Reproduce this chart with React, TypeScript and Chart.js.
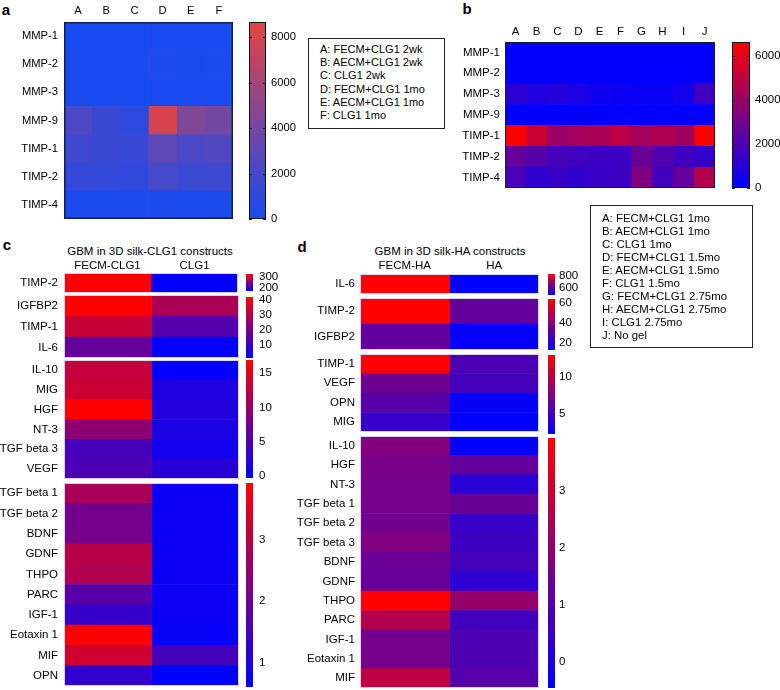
import React, { useEffect, useRef } from "react";
import { Chart, registerables } from "chart.js";
Chart.register(...registerables);

const FONT = '"Liberation Sans", Arial, Helvetica, sans-serif';
Chart.defaults.font.family = FONT;
Chart.defaults.color = "#000";

type RGB = [number, number, number];
type Box = [number, number, number, number];

// ---------- colour maps ----------
const BWR_LO: RGB = [0, 0, 255];
const BWR_HI: RGB = [255, 0, 0];
const A_LO: RGB = [22, 74, 242];
const A_HI: RGB = [228, 68, 66];

// ---------- panel a ----------
const A_COLS = ["A", "B", "C", "D", "E", "F"];
const A_ROWS = ["MMP-1", "MMP-2", "MMP-3", "MMP-9", "TIMP-1", "TIMP-2", "TIMP-4"];
const A_DATA = [
  [60, 60, 60, 150, 100, 120],
  [100, 100, 100, 250, 180, 200],
  [80, 80, 80, 150, 120, 130],
  [2300, 1500, 1000, 8100, 4500, 3900],
  [1700, 1500, 1400, 3000, 2200, 2500],
  [1300, 1200, 1100, 2000, 1600, 1700],
  [200, 200, 200, 250, 220, 230],
];
const A_RANGE: [number, number] = [0, 8660];
const A_TICKS = [0, 2000, 4000, 6000, 8000];
const A_LEGEND = [
  "A: FECM+CLG1 2wk",
  "B: AECM+CLG1 2wk",
  "C: CLG1 2wk",
  "D: FECM+CLG1 1mo",
  "E: AECM+CLG1 1mo",
  "F: CLG1 1mo",
];

// ---------- panel b ----------
const B_COLS = ["A", "B", "C", "D", "E", "F", "G", "H", "I", "J"];
const B_ROWS = ["MMP-1", "MMP-2", "MMP-3", "MMP-9", "TIMP-1", "TIMP-2", "TIMP-4"];
const B_DATA = [
  [80, 60, 60, 50, 50, 40, 40, 40, 40, 60],
  [60, 50, 50, 40, 40, 40, 30, 30, 30, 50],
  [1100, 800, 900, 700, 400, 300, 250, 250, 500, 1700],
  [60, 50, 50, 40, 40, 40, 40, 40, 40, 60],
  [6640, 5300, 4000, 4300, 4400, 4900, 4300, 4500, 4200, 6640],
  [2600, 2300, 1800, 1700, 1600, 1600, 2700, 2100, 1700, 1300],
  [1900, 1200, 1400, 1300, 1500, 1600, 3300, 1700, 2600, 4700],
];
const B_RANGE: [number, number] = [0, 6640];
const B_TICKS = [0, 2000, 4000, 6000];
const B_LEGEND = [
  "A: FECM+CLG1 1mo",
  "B: AECM+CLG1 1mo",
  "C: CLG1 1mo",
  "D: FECM+CLG1 1.5mo",
  "E: AECM+CLG1 1.5mo",
  "F: CLG1 1.5mo",
  "G: FECM+CLG1 2.75mo",
  "H: AECM+CLG1 2.75mo",
  "I: CLG1 2.75mo",
  "J: No gel",
];

// ---------- panel c ----------
const C_TITLE = "GBM in 3D silk-CLG1 constructs";
const C_COLS = ["FECM-CLG1", "CLG1"];
const C_G1_ROWS = ["TIMP-2"];
const C_G1_FECM = [327];
const C_G1_CLG1 = [173];
const C_G1_RANGE: [number, number] = [173, 327];
const C_G1_TICKS = [200, 300];
const C_G2_ROWS = ["IGFBP2", "TIMP-1", "IL-6"];
const C_G2_FECM = [42, 33, 17.5];
const C_G2_CLG1 = [28.5, 14.5, 1.5];
const C_G2_RANGE: [number, number] = [1.3, 42];
const C_G2_TICKS = [10, 20, 30, 40];
const C_G3_ROWS = ["IL-10", "MIG", "HGF", "NT-3", "TGF beta 3", "VEGF"];
const C_G3_FECM = [13, 13.3, 16.9, 9.3, 4.4, 4.8];
const C_G3_CLG1 = [0, 1.8, 1.9, 1.5, 1.0, 2.3];
const C_G3_RANGE: [number, number] = [-0.3, 16.9];
const C_G3_TICKS = [0, 5, 10, 15];
const C_G4_ROWS = ["TGF beta 1", "TGF beta 2", "BDNF", "GDNF", "THPO", "PARC", "IGF-1", "Eotaxin 1", "MIF", "OPN"];
const C_G4_FECM = [2.8, 2.1, 2.1, 3.0, 2.9, 1.75, 1.3, 3.93, 3.3, 1.25];
const C_G4_CLG1 = [0.75, 0.75, 0.75, 0.75, 0.75, 0.75, 0.75, 0.7, 1.5, 0.6];
const C_G4_RANGE: [number, number] = [0.6, 3.93];
const C_G4_TICKS = [1, 2, 3];

// ---------- panel d ----------
const D_TITLE = "GBM in 3D silk-HA constructs";
const D_COLS = ["FECM-HA", "HA"];
const D_G1_ROWS = ["IL-6"];
const D_G1_FECM = [833];
const D_G1_HA = [483];
const D_G1_RANGE: [number, number] = [483, 833];
const D_G1_TICKS = [600, 800];
const D_G2_ROWS = ["TIMP-2", "IGFBP2"];
const D_G2_FECM = [64, 32.5];
const D_G2_HA = [33, 14];
const D_G2_RANGE: [number, number] = [13, 64];
const D_G2_TICKS = [20, 40, 60];
const D_G3_ROWS = ["TIMP-1", "VEGF", "OPN", "MIG"];
const D_G3_FECM = [13, 7.0, 5.9, 4.6];
const D_G3_HA = [5.5, 5.2, 2.5, 2.3];
const D_G3_RANGE: [number, number] = [2.3, 13];
const D_G3_TICKS = [5, 10];
const D_G4_ROWS = ["IL-10", "HGF", "NT-3", "TGF beta 1", "TGF beta 2", "TGF beta 3", "BDNF", "GDNF", "THPO", "PARC", "IGF-1", "Eotaxin 1", "MIF"];
const D_G4_FECM = [1.78, 1.6, 1.56, 1.52, 1.47, 1.74, 1.38, 1.3, 3.93, 2.61, 1.52, 1.56, 2.79];
const D_G4_HA = [-0.46, 1.25, 0.24, 1.34, 0.5, 0.6, 0.73, 0.33, 2.13, 0.64, 0.86, 0.86, 1.0];
const D_G4_RANGE: [number, number] = [-0.46, 3.93];
const D_G4_TICKS = [0, 1, 2, 3];

// ---------- helpers ----------
function mix(lo: RGB, hi: RGB, t: number) {
  const u = Math.max(0, Math.min(1, t));
  const c = lo.map((v, i) => Math.round(v + (hi[i] - v) * u));
  return `rgb(${c[0]},${c[1]},${c[2]})`;
}

const framePlugin = {
  id: "frame",
  afterDraw(chart: any, _args: any, opts: any) {
    if (!opts) return;
    const { ctx, chartArea: a } = chart;
    ctx.save();
    if (opts.color) {
      const w = opts.width || 1;
      ctx.strokeStyle = opts.color;
      ctx.lineWidth = w;
      ctx.strokeRect(a.left + w / 2, a.top + w / 2, a.right - a.left - w, a.bottom - a.top - w);
    }
    if (opts.tickMarks) {
      const s = chart.scales.y;
      ctx.strokeStyle = opts.tickMarks;
      ctx.lineWidth = 1;
      s.ticks.forEach((tk: any) => {
        const y = Math.round(s.getPixelForValue(tk.value)) + 0.5;
        ctx.beginPath();
        ctx.moveTo(a.left, y);
        ctx.lineTo(a.left + 3, y);
        ctx.moveTo(a.right - 3, y);
        ctx.lineTo(a.right, y);
        ctx.stroke();
      });
    }
    ctx.restore();
  },
};

const M = 18; // spare canvas margin so axis label padding never squeezes the plot area

type HeatProps = {
  area: Box; // left, top, right, bottom of the cells on the page
  labelW: number;
  colH: number;
  rows: string[];
  cols: string[];
  columns: number[][];
  range: [number, number];
  lo: RGB;
  hi: RGB;
  showCols: boolean;
  frame?: string;
  frameW?: number;
  padX?: number;
  padY?: number;
  fs?: number;
};

function Heatmap(p: HeatProps) {
  const ref = useRef<HTMLCanvasElement>(null);
  const [l, t, r, b] = p.area;
  const topM = p.showCols ? p.colH : M;
  const bx = l - p.labelW;
  const by = t - topM;
  const bw = p.labelW + (r - l) + 4;
  const bh = topM + (b - t) + M;
  useEffect(() => {
    const [mn, mx] = p.range;
    const nC = p.cols.length;
    const fs = p.fs ?? 11;
    const chart = new Chart(ref.current!, {
      type: "bar",
      data: {
        labels: p.rows,
        datasets: p.cols.map((c, j) => ({
          label: c,
          data: p.rows.map(() => 1),
          backgroundColor: p.columns[j].map((v) => mix(p.lo, p.hi, (v - mn) / (mx - mn))),
          borderWidth: 0,
          barPercentage: 1,
          categoryPercentage: 1,
        })),
      },
      options: {
        indexAxis: "y",
        animation: false,
        responsive: false,
        maintainAspectRatio: false,
        layout: { padding: { left: 0, top: p.showCols ? 0 : M, right: 4, bottom: M } },
        plugins: {
          legend: { display: false },
          tooltip: { enabled: false },
          frame: { color: p.frame, width: p.frameW || 1 },
        } as any,
        scales: {
          x: {
            type: "linear",
            stacked: true,
            min: 0,
            max: nC,
            position: "top",
            display: p.showCols,
            grid: { display: false, drawTicks: false },
            border: { display: false },
            afterBuildTicks: (s: any) => {
              s.ticks = p.cols.map((_, j) => ({ value: j + 0.5 }));
            },
            afterFit: (s: any) => {
              s.height = p.colH;
            },
            ticks: {
              autoSkip: false,
              maxRotation: 0,
              minRotation: 0,
              padding: p.padX ?? 4,
              color: "#000",
              font: { size: fs, family: FONT },
              callback: (v: any) => p.cols[Math.floor(Number(v))],
            },
          },
          y: {
            type: "category",
            stacked: true,
            grid: { display: false, drawTicks: false },
            border: { display: false },
            afterFit: (s: any) => {
              s.width = p.labelW;
            },
            ticks: {
              autoSkip: false,
              padding: p.padY ?? 6,
              color: "#000",
              font: { size: fs, family: FONT },
            },
          },
        },
      } as any,
      plugins: [framePlugin],
    });
    return () => chart.destroy();
  }, []);
  return (
    <canvas
      ref={ref}
      width={bw}
      height={bh}
      style={{ position: "absolute", left: bx, top: by, width: bw, height: bh }}
    />
  );
}

type BarProps = {
  bar: Box; // left, top, right, bottom
  labelW: number;
  range: [number, number];
  ticks: number[];
  lo: RGB;
  hi: RGB;
  pad: number;
  frame?: string;
  tickMarks?: string;
  fs?: number;
};

function ColorBar(p: BarProps) {
  const ref = useRef<HTMLCanvasElement>(null);
  const [l, t, r, b] = p.bar;
  const bx = l;
  const by = t - M;
  const bw = r - l + p.labelW;
  const bh = b - t + 2 * M;
  useEffect(() => {
    const [mn, mx] = p.range;
    const loC = mix(p.lo, p.hi, 0);
    const hiC = mix(p.lo, p.hi, 1);
    const chart = new Chart(ref.current!, {
      type: "bar",
      data: {
        labels: [""],
        datasets: [
          {
            data: [[mn, mx]],
            backgroundColor: (c: any) => {
              const a = c.chart.chartArea;
              if (!a) return loC;
              const g = c.chart.ctx.createLinearGradient(0, a.bottom, 0, a.top);
              g.addColorStop(0, loC);
              g.addColorStop(1, hiC);
              return g;
            },
            borderWidth: 0,
            barPercentage: 1,
            categoryPercentage: 1,
            inflateAmount: 0,
          } as any,
        ],
      },
      options: {
        animation: false,
        responsive: false,
        maintainAspectRatio: false,
        layout: { padding: { left: 0, right: 0, top: M, bottom: M } },
        plugins: {
          legend: { display: false },
          tooltip: { enabled: false },
          frame: { color: p.frame, width: 1, tickMarks: p.tickMarks },
        } as any,
        scales: {
          x: { display: false },
          y: {
            type: "linear",
            position: "right",
            min: mn,
            max: mx,
            grid: { display: false, drawTicks: false },
            border: { display: false },
            afterBuildTicks: (s: any) => {
              s.ticks = p.ticks.map((v) => ({ value: v }));
            },
            afterFit: (s: any) => {
              s.width = p.labelW;
            },
            ticks: {
              autoSkip: false,
              padding: p.pad,
              color: "#000",
              font: { size: p.fs ?? 11, family: FONT },
              callback: (v: any) => String(v),
            },
          },
        },
      } as any,
      plugins: [framePlugin],
    });
    return () => chart.destroy();
  }, []);
  return (
    <canvas
      ref={ref}
      width={bw}
      height={bh}
      style={{ position: "absolute", left: bx, top: by, width: bw, height: bh }}
    />
  );
}

function Txt(p: { x: number; y: number; children: any; size?: number; bold?: boolean }) {
  return (
    <div
      style={{
        position: "absolute",
        left: p.x,
        top: p.y,
        transform: "translate(-50%,-50%)",
        fontSize: p.size ?? 11,
        fontWeight: p.bold ? 700 : 400,
        lineHeight: 1,
        whiteSpace: "nowrap",
        color: "#000",
      }}
    >
      {p.children}
    </div>
  );
}

function LegendBox(p: { x: number; y: number; w: number; h: number; lines: string[]; lh: number; padTop: number; fs: number }) {
  return (
    <div
      style={{
        position: "absolute",
        left: p.x,
        top: p.y,
        width: p.w,
        height: p.h,
        boxSizing: "border-box",
        border: "1px solid #222",
        paddingTop: p.padTop,
        paddingLeft: 11,
        fontSize: p.fs,
        lineHeight: `${p.lh}px`,
        whiteSpace: "nowrap",
        color: "#000",
      }}
    >
      {p.lines.map((s) => (
        <div key={s}>{s}</div>
      ))}
    </div>
  );
}

export default function App() {
  const cFrame = "#d9d3f0";
  const FS = 11.5;
  return (
    <div
      style={{
        position: "fixed",
        left: 0,
        top: 0,
        width: 780,
        height: 690,
        overflow: "hidden",
        background: "#fff",
        fontFamily: FONT,
      }}
    >
      {/* panel labels */}
      <Txt x={6} y={9} size={15} bold>a</Txt>
      <Txt x={467} y={8} size={15} bold>b</Txt>
      <Txt x={7} y={244} size={15} bold>c</Txt>
      <Txt x={302} y={246} size={15} bold>d</Txt>

      {/* panel a */}
      <Heatmap
        area={[64, 22, 233, 219]}
        labelW={64}
        colH={22}
        rows={A_ROWS}
        cols={A_COLS}
        columns={A_COLS.map((_, j) => A_DATA.map((row) => row[j]))}
        range={A_RANGE}
        lo={A_LO}
        hi={A_HI}
        showCols
        frame="#0d1f5c"
        frameW={1.5}
        padX={4}
        padY={6}
        fs={11.2}
      />
      <ColorBar bar={[249, 22, 266, 219]} labelW={40} range={A_RANGE} ticks={A_TICKS} lo={A_LO} hi={A_HI} pad={5} frame="#111" tickMarks="#222" fs={11.2} />
      <LegendBox x={308} y={38} w={137} h={91} lines={A_LEGEND} lh={13.2} padTop={4} fs={11} />

      {/* panel b */}
      <Heatmap
        area={[505, 42, 715, 188]}
        labelW={75}
        colH={42}
        rows={B_ROWS}
        cols={B_COLS}
        columns={B_COLS.map((_, j) => B_DATA.map((row) => row[j]))}
        range={B_RANGE}
        lo={BWR_LO}
        hi={BWR_HI}
        showCols
        frame="#1a1a3a"
        frameW={1}
        padX={3}
        padY={5}
        fs={FS}
      />
      <ColorBar bar={[732, 42, 750, 188]} labelW={30} range={B_RANGE} ticks={B_TICKS} lo={BWR_LO} hi={BWR_HI} pad={5} frame="#111" tickMarks="#222" fs={FS} />
      <LegendBox x={590} y={205} w={163} h={143} lines={B_LEGEND} lh={13} padTop={6} fs={11.4} />

      {/* panel c */}
      <Txt x={150} y={251.5} size={11.5}>{C_TITLE}</Txt>
      <Heatmap area={[64, 273, 238, 293]} labelW={64} colH={18} rows={C_G1_ROWS} cols={C_COLS} columns={[C_G1_FECM, C_G1_CLG1]} range={C_G1_RANGE} lo={BWR_LO} hi={BWR_HI} showCols frame={cFrame} padX={0} fs={FS} />
      <Heatmap area={[64, 295, 239, 358]} labelW={64} colH={0} rows={C_G2_ROWS} cols={C_COLS} columns={[C_G2_FECM, C_G2_CLG1]} range={C_G2_RANGE} lo={BWR_LO} hi={BWR_HI} showCols={false} frame={cFrame} fs={FS} />
      <Heatmap area={[64, 360, 239, 479]} labelW={64} colH={0} rows={C_G3_ROWS} cols={C_COLS} columns={[C_G3_FECM, C_G3_CLG1]} range={C_G3_RANGE} lo={BWR_LO} hi={BWR_HI} showCols={false} frame={cFrame} fs={FS} />
      <Heatmap area={[64, 483, 239, 686]} labelW={64} colH={0} rows={C_G4_ROWS} cols={C_COLS} columns={[C_G4_FECM, C_G4_CLG1]} range={C_G4_RANGE} lo={BWR_LO} hi={BWR_HI} showCols={false} frame={cFrame} fs={FS} />
      <ColorBar bar={[246, 274, 253, 291]} labelW={30} range={C_G1_RANGE} ticks={C_G1_TICKS} lo={BWR_LO} hi={BWR_HI} pad={6} fs={FS} />
      <ColorBar bar={[246, 297, 253, 358]} labelW={30} range={C_G2_RANGE} ticks={C_G2_TICKS} lo={BWR_LO} hi={BWR_HI} pad={6} fs={FS} />
      <ColorBar bar={[246, 360, 253, 478]} labelW={30} range={C_G3_RANGE} ticks={C_G3_TICKS} lo={BWR_LO} hi={BWR_HI} pad={6} fs={FS} />
      <ColorBar bar={[246, 483, 253, 687]} labelW={30} range={C_G4_RANGE} ticks={C_G4_TICKS} lo={BWR_LO} hi={BWR_HI} pad={6} fs={FS} />

      {/* panel d */}
      <Txt x={450} y={252} size={11.5}>{D_TITLE}</Txt>
      <Heatmap area={[360, 274, 539, 294]} labelW={70} colH={18} rows={D_G1_ROWS} cols={D_COLS} columns={[D_G1_FECM, D_G1_HA]} range={D_G1_RANGE} lo={BWR_LO} hi={BWR_HI} showCols frame={cFrame} padX={1} padY={5} fs={FS} />
      <Heatmap area={[360, 298, 539, 350]} labelW={70} colH={0} rows={D_G2_ROWS} cols={D_COLS} columns={[D_G2_FECM, D_G2_HA]} range={D_G2_RANGE} lo={BWR_LO} hi={BWR_HI} showCols={false} frame={cFrame} padY={5} fs={FS} />
      <Heatmap area={[360, 354, 539, 432]} labelW={70} colH={0} rows={D_G3_ROWS} cols={D_COLS} columns={[D_G3_FECM, D_G3_HA]} range={D_G3_RANGE} lo={BWR_LO} hi={BWR_HI} showCols={false} frame={cFrame} padY={5} fs={FS} />
      <Heatmap area={[360, 436, 539, 688]} labelW={70} colH={0} rows={D_G4_ROWS} cols={D_COLS} columns={[D_G4_FECM, D_G4_HA]} range={D_G4_RANGE} lo={BWR_LO} hi={BWR_HI} showCols={false} frame={cFrame} padY={5} fs={FS} />
      <ColorBar bar={[548, 274, 555, 295]} labelW={30} range={D_G1_RANGE} ticks={D_G1_TICKS} lo={BWR_LO} hi={BWR_HI} pad={4} fs={FS} />
      <ColorBar bar={[548, 299, 555, 350]} labelW={30} range={D_G2_RANGE} ticks={D_G2_TICKS} lo={BWR_LO} hi={BWR_HI} pad={4} fs={FS} />
      <ColorBar bar={[548, 355, 555, 434]} labelW={30} range={D_G3_RANGE} ticks={D_G3_TICKS} lo={BWR_LO} hi={BWR_HI} pad={4} fs={FS} />
      <ColorBar bar={[548, 438, 555, 688]} labelW={30} range={D_G4_RANGE} ticks={D_G4_TICKS} lo={BWR_LO} hi={BWR_HI} pad={4} fs={FS} />
    </div>
  );
}
